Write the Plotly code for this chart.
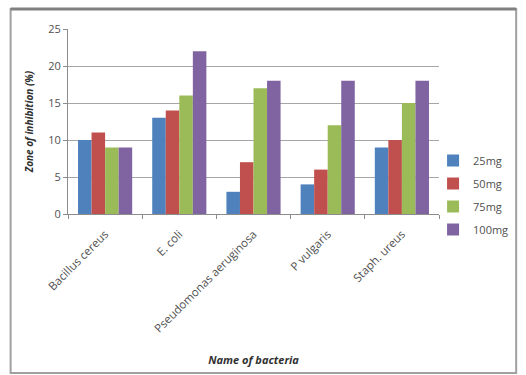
import plotly.graph_objects as go

categories = ["Bacillus cereus", "E. coli", "Pseudomonas aeruginosa", "P vulgaris", "Staph. ureus"]
series_names = ["25mg", "50mg", "75mg", "100mg"]
v25 = [10, 13, 3, 4, 9]
v50 = [11, 14, 7, 6, 10]
v75 = [9, 16, 17, 12, 15]
v100 = [9, 22, 18, 18, 18]
colors = ["#4F81BD", "#C0504D", "#9BBB59", "#8064A2"]

fig = go.Figure()
for name, vals, c in zip(series_names, [v25, v50, v75, v100], colors):
    fig.add_trace(go.Bar(x=categories, y=vals, name=name, legendgroup=name,
                         marker=dict(color=c, line=dict(width=0))))

L, R, T, B = 68, 83, 29, 161
W, H = 526, 375
pw = W - L - R
ph = H - T - B

def px_x(p):
    return (p - L) / pw

def px_y(p):
    return (H - B - p) / ph

fig.update_layout(
    width=W, height=H,
    margin=dict(l=L, r=R, t=T, b=B),
    paper_bgcolor="white", plot_bgcolor="white",
    barmode="group", bargap=0.27, bargroupgap=0,
    font=dict(family="Open Sans, Liberation Sans, sans-serif", size=11, color="#505050"),
    legend=dict(x=px_x(437), y=px_y(146), xanchor="left", yanchor="top",
                font=dict(size=11, color="#505050"), itemwidth=30, tracegroupgap=4,
                bgcolor="rgba(0,0,0,0)"),
    xaxis=dict(tickangle=-45, showline=True, linecolor="#8c8c8c", linewidth=1,
               ticks="outside", ticklen=4, tickcolor="#8c8c8c", tickson="boundaries",
               ticklabelstandoff=8, automargin=False,
               title=dict(text="<b><i>Name of bacteria</i></b>", font=dict(size=11, color="#303030"), standoff=21),
               tickfont=dict(size=11.5, color="#505050")),
    yaxis=dict(range=[0, 25], dtick=5, showgrid=True, gridcolor="#A6A6A6", gridwidth=1,
               showline=True, linecolor="#8c8c8c", ticks="outside", ticklen=4, tickcolor="#8c8c8c",
               zeroline=False, automargin=False,
               title=dict(text="<b><i>Zone of inhibition (%)</i></b>", font=dict(size=10, color="#303030"), standoff=12),
               tickfont=dict(size=11, color="#505050")),
    shapes=[dict(type="rect", xref="paper", yref="paper",
                 x0=px_x(10), x1=px_x(521), y0=px_y(373), y1=px_y(9),
                 line=dict(color="#a0a0a0", width=2), layer="below"),
            dict(type="line", xref="paper", yref="paper",
                 x0=px_x(10), x1=px_x(521), y0=px_y(9), y1=px_y(9),
                 line=dict(color="#808080", width=3), layer="below")],
)

fig.write_html("out.html")
